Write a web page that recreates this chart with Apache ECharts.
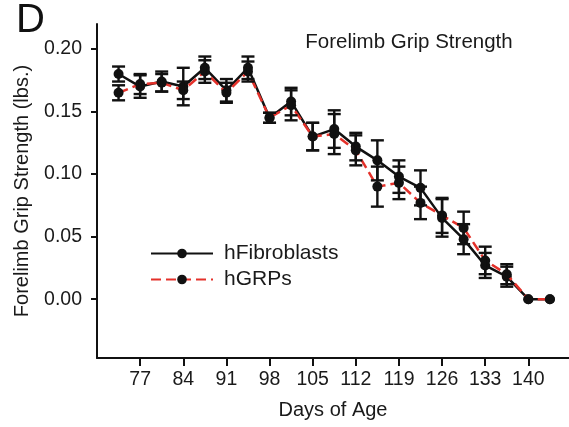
<!DOCTYPE html>
<html>
<head>
<meta charset="utf-8">
<script src="https://cdn.jsdelivr.net/npm/echarts@6/dist/echarts.min.js"></script>
<style>html,body{margin:0;padding:0;background:#fff;}#c{width:569px;height:427px;}</style>
</head>
<body>
<div id="c"></div>
<script>
const days = [73.5,77,80.5,84,87.5,91,94.5,98,101.5,105,108.5,112,115.5,119,122.5,126,129.5,133,136.5,140,143.5];
const fibMean = [0.180,0.170,0.174,0.170,0.185,0.167,0.185,0.145,0.158,0.130,0.136,0.122,0.111,0.098,0.089,0.065,0.048,0.027,0.018,0,0];
const fibErr  = [0.006,0.009,0.008,0.015,0.009,0.009,0.009,0.004,0.011,0.011,0.015,0.011,0.016,0.013,0.014,0.015,0.012,0.010,0.008,0,0];
const grpMean = [0.165,0.172,0.173,0.167,0.182,0.165,0.182,0.145,0.155,0.130,0.132,0.119,0.090,0.093,0.077,0.067,0.057,0.031,0.020,0,0];
const grpErr  = [0.006,0.008,0.007,0.007,0.009,0.008,0.008,0.004,0.012,0.011,0.016,0.012,0.016,0.013,0.013,0.014,0.013,0.011,0.008,0,0];
const xTicks = [77,84,91,98,105,112,119,126,133,140];
const yTicks = [0,0.05,0.10,0.15,0.20];

const FONT = "'Liberation Sans', Arial, Helvetica, sans-serif";
const BLACK = '#111111';
const RED = '#e4312a';

function errRender(params, api) {
  const x = api.value(0), m = api.value(1), e = api.value(2);
  if (!e) return null;
  const t = api.coord([x, m + e]);
  const b = api.coord([x, m - e]);
  const hw = 6.5;
  const st = {stroke: BLACK, lineWidth: 2.4};
  return {type: 'group', children: [
    {type: 'line', shape: {x1: t[0], y1: t[1], x2: b[0], y2: b[1]}, style: st},
    {type: 'line', shape: {x1: t[0]-hw, y1: t[1], x2: t[0]+hw, y2: t[1]}, style: st},
    {type: 'line', shape: {x1: b[0]-hw, y1: b[1], x2: b[0]+hw, y2: b[1]}, style: st}
  ]};
}

const chart = echarts.init(document.getElementById('c'), null, {renderer: 'canvas'});
chart.setOption({
  animation: false,
  backgroundColor: '#fff',
  textStyle: {fontFamily: FONT},
  graphic: [
    {type: 'text', left: 16, top: 1, style: {text: 'D', font: "40px " + FONT, fill: '#111'}},
    {type: 'text', x: 409, y: 42, style: {text: 'Forelimb Grip Strength', font: "20.5px " + FONT, fill: '#1a1a1a', align: 'center', verticalAlign: 'middle'}}
  ],
  legend: {
    orient: 'vertical', left: 145, top: 238, itemWidth: 62, itemHeight: 12, itemGap: 5,
    textStyle: {fontFamily: FONT, fontSize: 21, color: '#1a1a1a', padding: [0, 0, 0, 6]},
    data: ['hFibroblasts', 'hGRPs']
  },
  grid: {left: 97, right: 0, top: 24, bottom: 69},
  xAxis: {
    type: 'value', min: 70, max: 146.6,
    name: 'Days of Age', nameLocation: 'middle', nameGap: 42,
    nameTextStyle: {fontFamily: FONT, fontSize: 20, color: '#1a1a1a'},
    axisLine: {show: true, onZero: false, lineStyle: {color: BLACK, width: 2}},
    axisTick: {show: true, length: 8, lineStyle: {color: BLACK, width: 2}, customValues: xTicks},
    axisLabel: {fontFamily: FONT, fontSize: 19.5, color: '#1a1a1a', margin: 12, customValues: xTicks},
    splitLine: {show: false}
  },
  yAxis: {
    type: 'value', min: -0.047, max: 0.22,
    name: 'Forelimb Grip Strength (lbs.)', nameLocation: 'middle', nameGap: 65,
    nameTextStyle: {fontFamily: FONT, fontSize: 20, color: '#1a1a1a'},
    axisLine: {show: true, lineStyle: {color: BLACK, width: 2}},
    axisTick: {show: true, length: 6, lineStyle: {color: BLACK, width: 2}, customValues: yTicks},
    axisLabel: {fontFamily: FONT, fontSize: 19.5, color: '#1a1a1a', margin: 15, customValues: yTicks, formatter: v => v.toFixed(2)},
    splitLine: {show: false}
  },
  series: [
    {name: 'hFibroblasts', type: 'line', z: 3, data: days.map((d,i)=>[d, fibMean[i]]),
     symbol: 'circle', symbolSize: 10, itemStyle: {color: BLACK},
     lineStyle: {color: BLACK, width: 2.5}},
    {name: 'hGRPs', type: 'line', z: 4, data: days.map((d,i)=>[d, grpMean[i]]),
     symbol: 'circle', symbolSize: 10, itemStyle: {color: BLACK},
     lineStyle: {color: RED, width: 2.5, type: [10, 5]}},
    {type: 'custom', z: 5, renderItem: errRender, data: days.map((d,i)=>[d, fibMean[i], fibErr[i]]), silent: true},
    {type: 'custom', z: 5, renderItem: errRender, data: days.map((d,i)=>[d, grpMean[i], grpErr[i]]), silent: true}
  ]
});
</script>
</body>
</html>
